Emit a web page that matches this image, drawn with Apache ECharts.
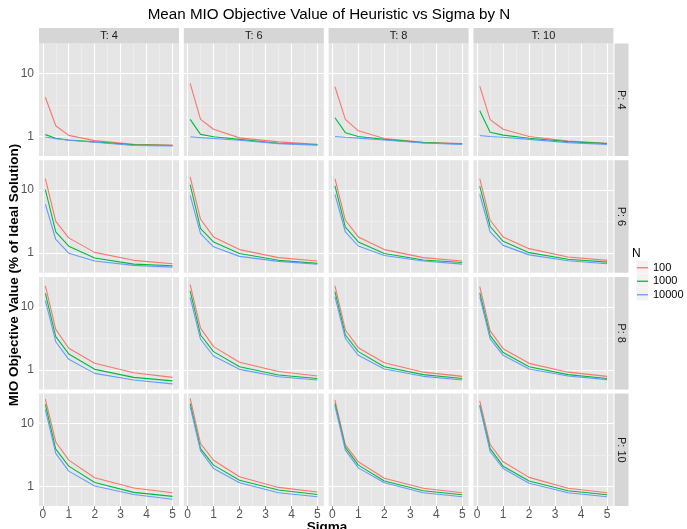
<!DOCTYPE html>
<html>
<head>
<meta charset="utf-8">
<script src="https://cdn.jsdelivr.net/npm/echarts@6/dist/echarts.min.js"></script>
<style>
html,body{margin:0;padding:0;background:#fff;}
#container{width:687px;height:529px;}
</style>
</head>
<body>
<div id="container"></div>
<script>
// sigma values on the x axis
var sigma = [0.1, 0.5, 1, 2, 3.5, 5];
var tValues = [4, 6, 8, 10];
var pValues = [4, 6, 8, 10];
var nNames = ['100', '1000', '10000'];
var nColors = ['#F8766D', '#00BA38', '#619CFF'];
var xTicks = [0, 1, 2, 3, 4, 5];
var xMinor = [0.5, 1.5, 2.5, 3.5, 4.5];
var yTicks = [1, 10];
var yMinor = [3.162];

// each panel: [N=100, N=1000, N=10000]
var p4t4 = [[4.2,1.48,1.04,0.86,0.75,0.73],[1.07,0.94,0.88,0.82,0.74,0.72],[0.98,0.92,0.87,0.81,0.72,0.71]];
var p4t6 = [[6.97,1.87,1.30,0.95,0.82,0.75],[1.87,1.08,0.99,0.90,0.78,0.74],[0.99,0.96,0.93,0.87,0.77,0.73]];
var p4t8 = [[6.15,1.87,1.23,0.93,0.81,0.77],[1.98,1.15,1.0,0.9,0.8,0.76],[1.0,0.97,0.94,0.88,0.79,0.75]];
var p4t10 = [[6.3,1.85,1.3,1.0,0.85,0.78],[2.56,1.17,1.05,0.94,0.83,0.77],[1.03,1.0,0.97,0.9,0.8,0.75]];

var p6t4 = [[15.3,3.2,1.75,1.03,0.77,0.68],[10.2,2.17,1.29,0.84,0.67,0.63],[6.0,1.65,1.0,0.75,0.64,0.6]];
var p6t6 = [[16.2,3.45,1.81,1.14,0.85,0.75],[12.3,2.46,1.51,0.99,0.77,0.69],[8.3,2.05,1.26,0.89,0.74,0.67]];
var p6t8 = [[15.3,3.33,1.81,1.14,0.85,0.75],[11.7,2.6,1.51,0.99,0.78,0.71],[8.6,2.17,1.3,0.92,0.75,0.67]];
var p6t10 = [[15.3,3.33,1.81,1.18,0.87,0.77],[11.6,2.65,1.54,1.02,0.8,0.72],[8.6,2.17,1.33,0.94,0.76,0.68]];

var p8t4 = [[21.5,4.4,2.2,1.27,0.9,0.76],[16.4,3.37,1.79,1.02,0.76,0.67],[12.6,2.8,1.47,0.88,0.69,0.6]];
var p8t6 = [[22.5,4.6,2.34,1.32,0.94,0.8],[17.9,3.58,1.95,1.12,0.83,0.73],[14.2,3.06,1.66,1.02,0.78,0.69]];
var p8t8 = [[21.5,4.3,2.25,1.3,0.92,0.79],[17.5,3.58,1.95,1.12,0.84,0.73],[14.5,3.15,1.7,1.03,0.79,0.69]];
var p8t10 = [[20.9,4.15,2.17,1.27,0.92,0.79],[16.6,3.5,1.88,1.12,0.84,0.73],[14.5,3.1,1.7,1.03,0.8,0.7]];

var p10t4 = [[24.4,5.1,2.63,1.38,0.95,0.8],[20.1,3.93,2.11,1.16,0.81,0.7],[16.7,3.36,1.76,1.02,0.75,0.63]];
var p10t6 = [[25,4.8,2.62,1.43,0.97,0.82],[20.8,4.0,2.19,1.26,0.88,0.75],[18.5,3.69,1.94,1.15,0.8,0.69]];
var p10t8 = [[23.5,4.6,2.47,1.36,0.94,0.8],[20.8,4.2,2.19,1.23,0.86,0.74],[18.9,3.78,1.98,1.15,0.8,0.69]];
var p10t10 = [[23,4.65,2.47,1.4,0.94,0.8],[19.7,4.0,2.11,1.23,0.86,0.74],[18.5,3.6,1.94,1.13,0.8,0.69]];

var panels = [
    [p4t4, p4t6, p4t8, p4t10],
    [p6t4, p6t6, p6t8, p6t10],
    [p8t4, p8t6, p8t8, p8t10],
    [p10t4, p10t6, p10t8, p10t10]
];

var FONT = 'Liberation Sans';
var colLeft = 39, colStep = 144.8, panelW = 140;
var rowTop = 43.5, rowStep = 116.7, panelH = 112.5;

var dom = document.querySelector('#container');
var myChart = echarts.init(dom);

var grids = [], xAxes = [], yAxes = [], series = [], graphics = [];

var gridLines = function(){
    var arr = [];
    var major = {color: '#ffffff', width: 1.1, type: 'solid'};
    var minor = {color: '#F2F2F2', width: 0.6, type: 'solid'};
    xTicks.forEach(function(v){ arr.push({xAxis: v, lineStyle: major}); });
    xMinor.forEach(function(v){ arr.push({xAxis: v, lineStyle: minor}); });
    yTicks.forEach(function(v){ arr.push({yAxis: v, lineStyle: major}); });
    yMinor.forEach(function(v){ arr.push({yAxis: v, lineStyle: minor}); });
    return arr;
};

for (var r = 0; r < 4; r++) {
    for (var c = 0; c < 4; c++) {
        var idx = r * 4 + c;
        var pLeft = colLeft + c * colStep;
        var pTop = rowTop + r * rowStep;
        grids.push({
            left: pLeft, top: pTop, width: panelW, height: panelH,
            show: true, backgroundColor: '#E5E5E5', borderWidth: 0
        });
        xAxes.push({
            gridIndex: idx, type: 'value', min: -0.145, max: 5.245,
            axisLine: {show: false}, splitLine: {show: false},
            axisTick: {show: r == 3, length: 3, customValues: xTicks, lineStyle: {color: '#7F7F7F'}},
            axisLabel: {show: r == 3, customValues: xTicks, margin: 3, fontSize: 12, color: '#555', fontFamily: FONT}
        });
        yAxes.push({
            gridIndex: idx, type: 'log', logBase: 10, min: 0.49, max: 29.9,
            axisLine: {show: false}, splitLine: {show: false},
            axisTick: {show: c == 0, length: 3, customValues: yTicks, lineStyle: {color: '#7F7F7F'}},
            axisLabel: {show: c == 0, customValues: yTicks, margin: 5, fontSize: 12, color: '#555', fontFamily: FONT}
        });
        // gridlines
        series.push({
            type: 'line', xAxisIndex: idx, yAxisIndex: idx, data: [], z: 1, silent: true,
            markLine: {silent: true, symbol: 'none', label: {show: false}, animation: false, z: 1,
                lineStyle: {type: 'solid'}, emphasis: {disabled: true}, data: gridLines()}
        });
        var vals = panels[r][c];
        for (var k = 0; k < 3; k++) {
            series.push({
                name: nNames[k], type: 'line', xAxisIndex: idx, yAxisIndex: idx, z: 6,
                symbol: 'none', color: nColors[k],
                lineStyle: {width: 1.1, color: nColors[k]},
                data: sigma.map(function(s, i){ return [s, vals[k][i]]; })
            });
        }
        if (r == 0) {
            graphics.push({type: 'rect', shape: {x: pLeft, y: 28, width: panelW, height: 15.5}, style: {fill: '#D6D6D6'}});
            graphics.push({type: 'text', x: pLeft + panelW / 2, y: 36, style: {text: 'T: ' + tValues[c], fontSize: 11, fontFamily: FONT, fill: '#1A1A1A', textAlign: 'center', textVerticalAlign: 'middle', align: 'center', verticalAlign: 'middle'}});
        }
        if (c == 3) {
            graphics.push({type: 'rect', shape: {x: 614.5, y: pTop, width: 14, height: panelH}, style: {fill: '#D6D6D6'}});
            graphics.push({type: 'text', x: 621.5, y: pTop + panelH / 2, rotation: -Math.PI / 2, style: {text: 'P: ' + pValues[r], fontSize: 11, fontFamily: FONT, fill: '#1A1A1A', textAlign: 'center', textVerticalAlign: 'middle', align: 'center', verticalAlign: 'middle'}});
        }
    }
}

// titles
graphics.push({type: 'text', x: 329, y: 15, style: {text: 'Mean MIO Objective Value of Heuristic vs Sigma by N', fontSize: 15.2, fontFamily: FONT, fill: '#000', textAlign: 'center', textVerticalAlign: 'middle', align: 'center', verticalAlign: 'middle'}});
graphics.push({type: 'text', x: 14, y: 275, rotation: Math.PI / 2, style: {text: 'MIO Objective Value (% of Ideal Solution)', fontSize: 13.5, fontWeight: 'bold', fontFamily: FONT, fill: '#000', textAlign: 'center', textVerticalAlign: 'middle', align: 'center', verticalAlign: 'middle'}});
graphics.push({type: 'text', x: 327, y: 527, style: {text: 'Sigma', fontSize: 13.5, fontWeight: 'bold', fontFamily: FONT, fill: '#000', textAlign: 'center', textVerticalAlign: 'middle', align: 'center', verticalAlign: 'middle'}});

// legend title and key boxes
graphics.push({type: 'text', x: 632, y: 254, style: {text: 'N', fontSize: 12, fontFamily: FONT, fill: '#000', textAlign: 'left', textVerticalAlign: 'middle', align: 'left', verticalAlign: 'middle'}});
for (var j = 0; j < 3; j++) {
    graphics.push({type: 'rect', shape: {x: 636.5, y: 260.5 + j * 13.5, width: 12, height: 13}, style: {fill: '#F2F2F2'}});
}

var option = {
    animation: false,
    grid: grids,
    xAxis: xAxes,
    yAxis: yAxes,
    series: series,
    legend: {
        data: nNames, orient: 'vertical', left: 637, top: 261,
        icon: 'rect', itemWidth: 11, itemHeight: 1.3, itemGap: 0, padding: 0,
        textStyle: {fontSize: 11, lineHeight: 13.5, fontFamily: FONT, color: '#000'},
        selectedMode: false
    },
    graphic: graphics
};

myChart.setOption(option);
</script>
</body>
</html>
